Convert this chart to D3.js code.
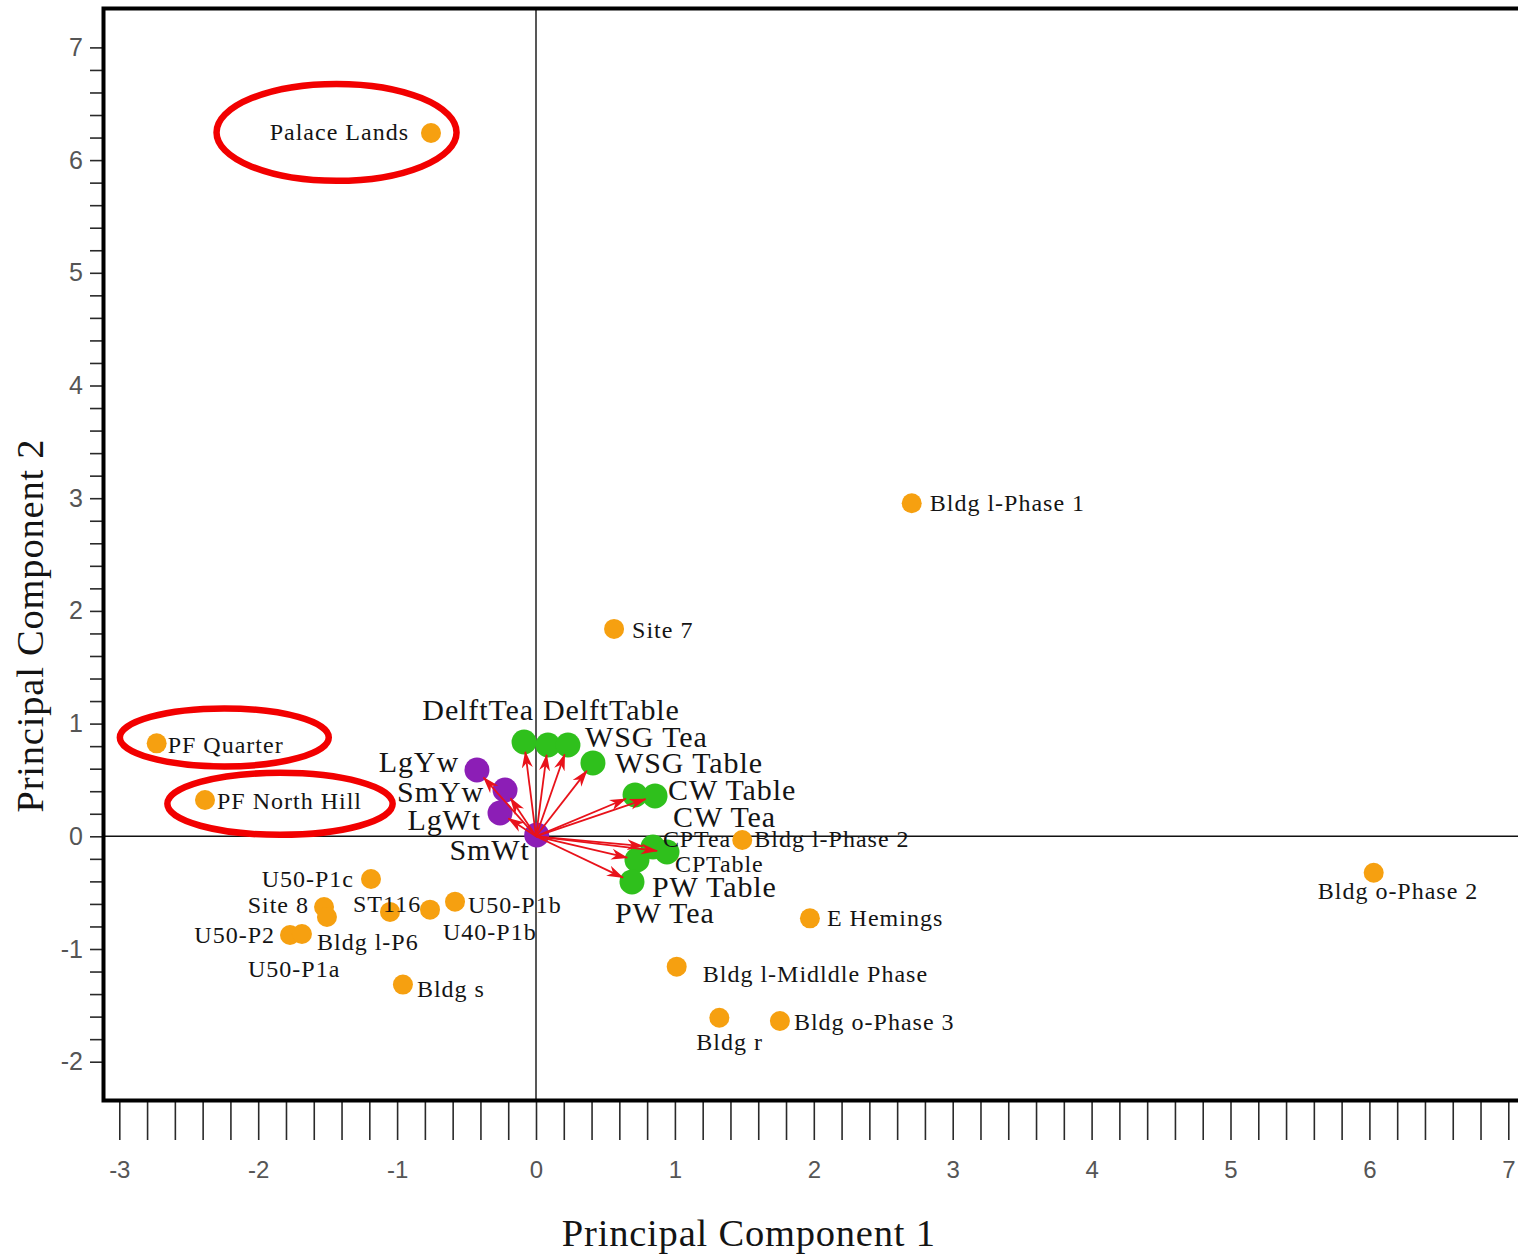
<!DOCTYPE html>
<html>
<head>
<meta charset="utf-8">
<script src="https://cdn.jsdelivr.net/npm/d3@7"></script>
<style>
  html, body { margin: 0; padding: 0; background: #fff; }
  svg { display: block; }
</style>
</head>
<body>
<script>
// ---------------- DATA ----------------
const sites = ["Palace Lands","Bldg l-Phase 1","Site 7","PF Quarter","PF North Hill","Bldg l-Phase 2",
  "Bldg o-Phase 2","E Hemings","Bldg l-Midldle Phase","Bldg r","Bldg o-Phase 3","U50-P1c","Site 8",
  "Bldg l-P6","U50-P2","U50-P1a","ST116","U40-P1b","U50-P1b","Bldg s"];
const sitePC1 = [-0.756, 2.705, 0.562, -2.731, -2.383, 1.485, 6.031, 1.972, 1.013, 1.320, 1.756,
  -1.188, -1.526, -1.505, -1.771, -1.685, -1.051, -0.763, -0.583, -0.958];
const sitePC2 = [6.240, 2.955, 1.840, 0.825, 0.322, -0.033, -0.323, -0.728, -1.157, -1.610, -1.639,
  -0.379, -0.627, -0.716, -0.876, -0.867, -0.671, -0.651, -0.580, -1.316];

const variables = ["SmWt","LgYw","SmYw","LgWt","DelftTea","DelftTable","WSG Tea","WSG Table",
  "CW Table","CW Tea","CPTea","CPTable","PW Table","PW Tea"];
const varType = ["size","size","size","size","ware","ware","ware","ware","ware","ware","ware","ware","ware","ware"];
const varPC1 = [0.005, -0.425, -0.223, -0.259, -0.086, 0.086, 0.230, 0.410, 0.713, 0.857, 0.842, 0.943, 0.727, 0.691];
const varPC2 = [0.012, 0.588, 0.411, 0.207, 0.837, 0.810, 0.810, 0.651, 0.367, 0.358, -0.095, -0.139, -0.210, -0.405];

const xTicks = d3.range(-3, 7.0001, 0.2).map(v => +v.toFixed(1));
const yTicks = d3.range(-2, 7.0001, 0.2).map(v => +v.toFixed(1));
const xTickLabels = [-3,-2,-1,0,1,2,3,4,5,6,7];
const yTickLabels = [-2,-1,0,1,2,3,4,5,6,7];

// highlighted groups (ellipse centre and radii in data units)
const highlightCx = [-1.436, -2.244, -1.843];
const highlightCy = [6.246, 0.877, 0.288];
const highlightRx = [0.864, 0.752, 0.811];
const highlightRy = [0.430, 0.257, 0.275];

// ---------------- LAYOUT ----------------
const W = 1518, H = 1256;
const box = { left: 103.5, top: 8.5, bottom: 1100.5, right: 1530 };
const colors = { site: "#F6A010", ware: "#2FC01C", size: "#8C1EB6", arrow: "#E8121A", ring: "#F20000", text: "#141414" };

const siteLabel = {
  "Palace Lands": ["end", -22, 7], "Bldg l-Phase 1": ["start", 18, 8], "Site 7": ["start", 18, 9],
  "PF Quarter": ["start", 11, 10], "PF North Hill": ["start", 12, 9], "Bldg l-Phase 2": ["start", 12, 7],
  "Bldg o-Phase 2": ["start", -56, 26], "E Hemings": ["start", 17, 8], "Bldg l-Midldle Phase": ["start", 26, 15],
  "Bldg r": ["start", -23, 32], "Bldg o-Phase 3": ["start", 14, 9], "U50-P1c": ["end", -17, 8],
  "Site 8": ["end", -15, 6], "Bldg l-P6": ["start", -10, 33], "U50-P2": ["end", -15, 8],
  "U50-P1a": ["start", -54, 43], "ST116": ["start", -37, 0], "U40-P1b": ["start", 13, 30],
  "U50-P1b": ["start", 13, 11], "Bldg s": ["start", 14, 12]
};
const varLabel = {
  "DelftTea": ["end", 10, -22, 30], "DelftTable": ["start", -5, -25, 30], "WSG Tea": ["start", 17, 2, 30],
  "WSG Table": ["start", 22, 10, 30], "CW Table": ["start", 33, 5, 30], "CW Tea": ["start", 18, 31, 30],
  "CPTea": ["start", 10, 0, 24], "CPTable": ["start", 8, 20, 24], "PW Table": ["start", 15, 37, 30],
  "PW Tea": ["start", -17, 41, 30], "LgYw": ["end", -18, 2, 30], "SmYw": ["end", -21, 12, 30],
  "LgWt": ["end", -19, 17, 30], "SmWt": ["end", -7, 25, 30]
};

const x = d3.scaleLinear().domain([-3, 7]).range([119.3, 1508.3]);
const y = d3.scaleLinear().domain([-2, 7]).range([1061.7, 47.4]);

const svg = d3.select("body").append("svg").attr("width", W).attr("height", H);
const serif = "'Liberation Serif', 'Times New Roman', serif";
const sans = "'Liberation Sans', Arial, sans-serif";

// clip for plot area
svg.append("clipPath").attr("id", "plot").append("rect")
  .attr("x", box.left).attr("y", box.top).attr("width", box.right - box.left).attr("height", box.bottom - box.top);

// zero lines
const g0 = svg.append("g").attr("clip-path", "url(#plot)");
g0.append("line").attr("x1", box.left).attr("x2", box.right).attr("y1", y(0)).attr("y2", y(0))
  .attr("stroke", "#111").attr("stroke-width", 1.4);
g0.append("line").attr("x1", x(0)).attr("x2", x(0)).attr("y1", box.top).attr("y2", box.bottom)
  .attr("stroke", "#111").attr("stroke-width", 1.4);

// axes
const xAxis = d3.axisBottom(x).tickValues(xTicks).tickSize(39.5).tickPadding(21)
  .tickFormat(d => xTickLabels.includes(d) ? String(d) : "");
const gx = svg.append("g").attr("transform", `translate(0,${box.bottom})`).call(xAxis);
gx.select(".domain").remove();
gx.selectAll(".tick line").attr("stroke", "#2a2a2a").attr("stroke-width", 1.6);
gx.selectAll(".tick text").attr("font-family", sans).attr("font-size", 24).attr("fill", "#555");

const yAxis = d3.axisLeft(y).tickValues(yTicks).tickSize(13.5).tickPadding(7)
  .tickFormat(d => yTickLabels.includes(d) ? String(d) : "");
const gy = svg.append("g").attr("transform", `translate(${box.left},0)`).call(yAxis);
gy.select(".domain").remove();
gy.selectAll(".tick line").attr("stroke", "#2a2a2a").attr("stroke-width", 1.6);
gy.selectAll(".tick text").attr("font-family", sans).attr("font-size", 25).attr("fill", "#555");

// frame
svg.append("path")
  .attr("d", `M${box.right},${box.top} H${box.left} V${box.bottom} H${box.right}`)
  .attr("fill", "none").attr("stroke", "#000").attr("stroke-width", 4);

// site points
const siteData = sites.map((s, i) => ({ name: s, pc1: sitePC1[i], pc2: sitePC2[i] }));
svg.append("g").selectAll("circle").data(siteData).join("circle")
  .attr("cx", d => x(d.pc1)).attr("cy", d => y(d.pc2)).attr("r", 10)
  .attr("fill", colors.site);

// variable points
const varData = variables.map((v, i) => ({ name: v, type: varType[i], pc1: varPC1[i], pc2: varPC2[i] }));
svg.append("g").selectAll("circle").data(varData.filter(d => d.type === "ware")).join("circle")
  .attr("cx", d => x(d.pc1)).attr("cy", d => y(d.pc2)).attr("r", 12.5)
  .attr("fill", colors.ware);
svg.append("g").selectAll("circle").data(varData.filter(d => d.type === "size")).join("circle")
  .attr("cx", d => x(d.pc1)).attr("cy", d => y(d.pc2)).attr("r", 12.5)
  .attr("fill", colors.size);

// arrows
svg.append("defs").append("marker").attr("id", "ah")
  .attr("viewBox", "0 -6 17 12").attr("refX", 16).attr("refY", 0)
  .attr("markerWidth", 17).attr("markerHeight", 12).attr("markerUnits", "userSpaceOnUse")
  .attr("orient", "auto")
  .append("path").attr("d", "M0,-5.5 L17,0 L0,5.5 L5,0 Z").attr("fill", colors.arrow);

const arrowData = varData.map(d => {
  const x0 = x(0), y0 = y(0), x1 = x(d.pc1), y1 = y(d.pc2);
  const len = Math.hypot(x1 - x0, y1 - y0);
  const k = len > 0 ? (len - 10) / len : 0;
  return { len, x0, y0, x1: x0 + (x1 - x0) * k, y1: y0 + (y1 - y0) * k };
}).filter(a => a.len > 20);
svg.append("g").selectAll("line").data(arrowData).join("line")
  .attr("x1", a => a.x0).attr("y1", a => a.y0).attr("x2", a => a.x1).attr("y2", a => a.y1)
  .attr("stroke", colors.arrow).attr("stroke-width", 1.8).attr("marker-end", "url(#ah)");

// labels
svg.append("g").selectAll("text").data(siteData).join("text")
  .attr("x", d => x(d.pc1) + siteLabel[d.name][1])
  .attr("y", d => y(d.pc2) + siteLabel[d.name][2])
  .attr("text-anchor", d => siteLabel[d.name][0])
  .attr("font-family", serif).attr("font-size", 24).attr("letter-spacing", 1)
  .attr("fill", colors.text).text(d => d.name);

svg.append("g").selectAll("text").data(varData).join("text")
  .attr("x", d => x(d.pc1) + varLabel[d.name][1])
  .attr("y", d => y(d.pc2) + varLabel[d.name][2])
  .attr("text-anchor", d => varLabel[d.name][0])
  .attr("font-family", serif).attr("font-size", d => varLabel[d.name][3]).attr("letter-spacing", 0.9)
  .attr("fill", colors.text).text(d => d.name);

// highlight ellipses
const rings = highlightCx.map((c, i) => ({ cx: c, cy: highlightCy[i], rx: highlightRx[i], ry: highlightRy[i] }));
svg.append("g").selectAll("ellipse").data(rings).join("ellipse")
  .attr("cx", d => x(d.cx)).attr("cy", d => y(d.cy))
  .attr("rx", d => x(d.cx + d.rx) - x(d.cx)).attr("ry", d => y(d.cy - d.ry) - y(d.cy))
  .attr("fill", "none").attr("stroke", colors.ring).attr("stroke-width", 6.5);

// axis titles
svg.append("text").attr("x", (x(-3) + x(7)) / 2 - 65).attr("y", 1246)
  .attr("text-anchor", "middle").attr("font-family", serif).attr("font-size", 38.5)
  .attr("letter-spacing", 0.8).attr("fill", colors.text).text("Principal Component 1");
svg.append("text").attr("transform", `translate(43,${(y(-2) + y(7)) / 2 + 71}) rotate(-90)`)
  .attr("text-anchor", "middle").attr("font-family", serif).attr("font-size", 38.5)
  .attr("letter-spacing", 0.8).attr("fill", colors.text).text("Principal Component 2");
</script>
</body>
</html>
